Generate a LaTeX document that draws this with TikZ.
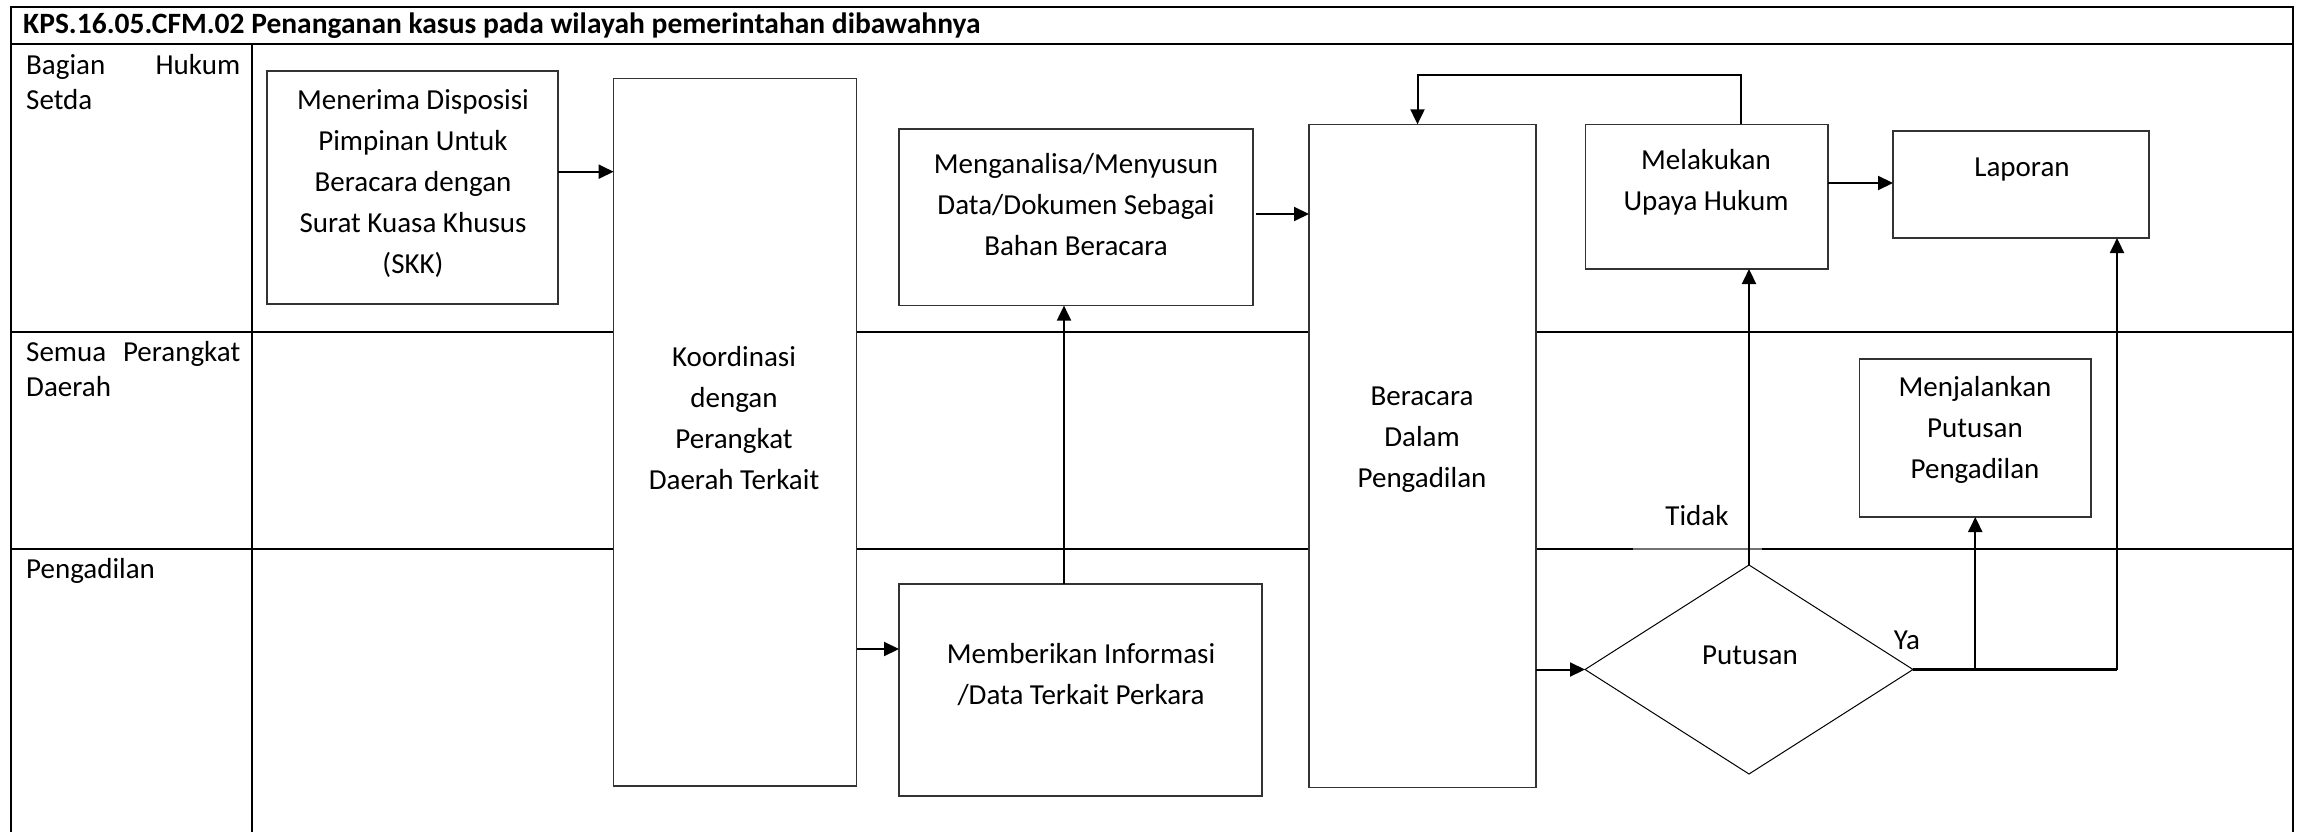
\documentclass[tikz,border=0pt]{standalone}
\usepackage{fontspec}
\setmainfont{Carlito}
\usetikzlibrary{arrows.meta,shapes.geometric}
\begin{document}
\begin{tikzpicture}[x=1pt,y=-1pt,
  frame/.style={line width=2.3pt, line cap=rect},
  box/.style={draw=black!80, line width=1.2pt, fill=white, rectangle, inner sep=0pt, outer sep=0pt},
  dia/.style={draw=black, line width=1pt, fill=white, diamond, inner sep=0pt, outer sep=0pt},
  txt/.style={align=center, inner sep=0pt, font=\fontsize{29}{41}\selectfont},
  lbl/.style={anchor=north west, text width=214pt, align=left, inner sep=0pt, font=\fontsize{29}{35}\selectfont},
  arr/.style={line width=2pt, -{Triangle[length=15pt,width=14pt]}},
  ln/.style={line width=2pt},
  thk/.style={line width=3.5pt}]
\useasboundingbox (0,0) rectangle (2304,832);
\clip (0,0) rectangle (2304,832);
% frame and lanes
\draw[frame] (11,850) -- (11,7) -- (2293,7) -- (2293,850);
\draw[frame] (11,44) -- (2293,44);
\draw[frame] (252,44) -- (252,850);
\draw[frame] (11,332) -- (2293,332);
\draw[frame] (11,549) -- (2293,549);
\draw[line width=2.3pt, black!55] (1633,549) -- (1762,549);
% title and lane labels
\node[anchor=west, inner sep=0pt, font=\bfseries\fontsize{29.5}{35}\selectfont] (title) at (23,26) {KPS.16.05.CFM.02 Penanganan kasus pada wilayah pemerintahan dibawahnya};
\node[lbl] (lane1) at (26,53.7) {Bagian\hfill Hukum\\Setda};
\node[lbl] (lane2) at (26,341) {Semua\hfill Perangkat\\Daerah};
\node[lbl] (lane3) at (26,558.5) {Pengadilan};
% boxes
\node[box, minimum width=291pt, minimum height=233pt] (menerima) at (412.5,187.5) {};
\node[box, minimum width=243pt, minimum height=707.4pt] (koord) at (735.1,432.3) {};
\node[box, minimum width=354pt, minimum height=176.6pt] (mengan) at (1076,217.3) {};
\node[box, minimum width=363pt, minimum height=212pt] (member) at (1080.5,690) {};
\node[box, minimum width=227pt, minimum height=663.3pt] (beracara) at (1422.5,456) {};
\node[box, minimum width=242.5pt, minimum height=144.7pt] (melakukan) at (1706.75,196.65) {};
\node[box, minimum width=256pt, minimum height=107pt] (laporan) at (2021,184.5) {};
\node[box, minimum width=231.5pt, minimum height=158pt] (menjal) at (1975.25,438) {};
\node[dia, minimum width=328pt, minimum height=209pt] (putusan) at (1749,669.5) {};
% texts
\node[txt] (menerimat) at (413,184) {Menerima Disposisi\\Pimpinan Untuk\\Beracara dengan\\Surat Kuasa Khusus\\(SKK)};
\node[txt] (koordt) at (734,418) {Koordinasi\\dengan\\Perangkat\\Daerah Terkait};
\node[txt] (mengant) at (1076,204.5) {Menganalisa/Menyusun\\Data/Dokumen Sebagai\\Bahan Beracara};
\node[txt] (membert) at (1081,674.5) {Memberikan Informasi\\/Data Terkait Perkara};
\node[txt] (beracarat) at (1422,440) {Beracara\\Dalam\\Pengadilan};
\node[txt] (melakukant) at (1706,182) {Melakukan\\Upaya Hukum};
\node[txt] (laporant) at (2022,170) {Laporan};
\node[txt] (menjalt) at (1975,429.5) {Menjalankan\\Putusan\\Pengadilan};
\node[txt] (putusant) at (1750,655) {Putusan};
\node[txt] (tidak) at (1697,516) {Tidak};
\node[txt] (ya) at (1907,640) {Ya};
% helper coordinates
\coordinate (a1) at (0,171.7);
\coordinate (a2) at (0,649);
\coordinate (a3) at (1064,0);
\coordinate (a4) at (0,214);
\coordinate (a9) at (0,183);
\coordinate (yx) at (2117,0);
\coordinate (fb1) at (1741,75);
\coordinate (fb2) at (1417.5,75);
% connectors
\draw[arr] (menerima.east |- a1) -- (koord.west |- a1);
\draw[arr] (koord.east |- a2) -- (member.west |- a2);
\draw[arr] (member.north -| a3) -- (mengan.south -| a3);
\draw[arr] ([xshift=3pt]mengan.east |- a4) -- (beracara.west |- a4);
\draw[arr] (beracara.east |- putusan.west) -- (putusan.west);
\draw[arr] (putusan.north) -- (putusan.north |- melakukan.south);
\draw[arr] (melakukan.east |- a9) -- (laporan.west |- a9);
\draw[arr] (melakukan.north -| fb1) -- (fb1) -- (fb2) -- (fb2 |- beracara.north);
\draw[thk] (putusan.east) -- (putusan.east -| yx);
\draw[arr] (putusan.east -| yx) -- (yx |- laporan.south);
\draw[arr] (putusan.east -| menjal.south) -- (menjal.south);
\end{tikzpicture}
\end{document}
